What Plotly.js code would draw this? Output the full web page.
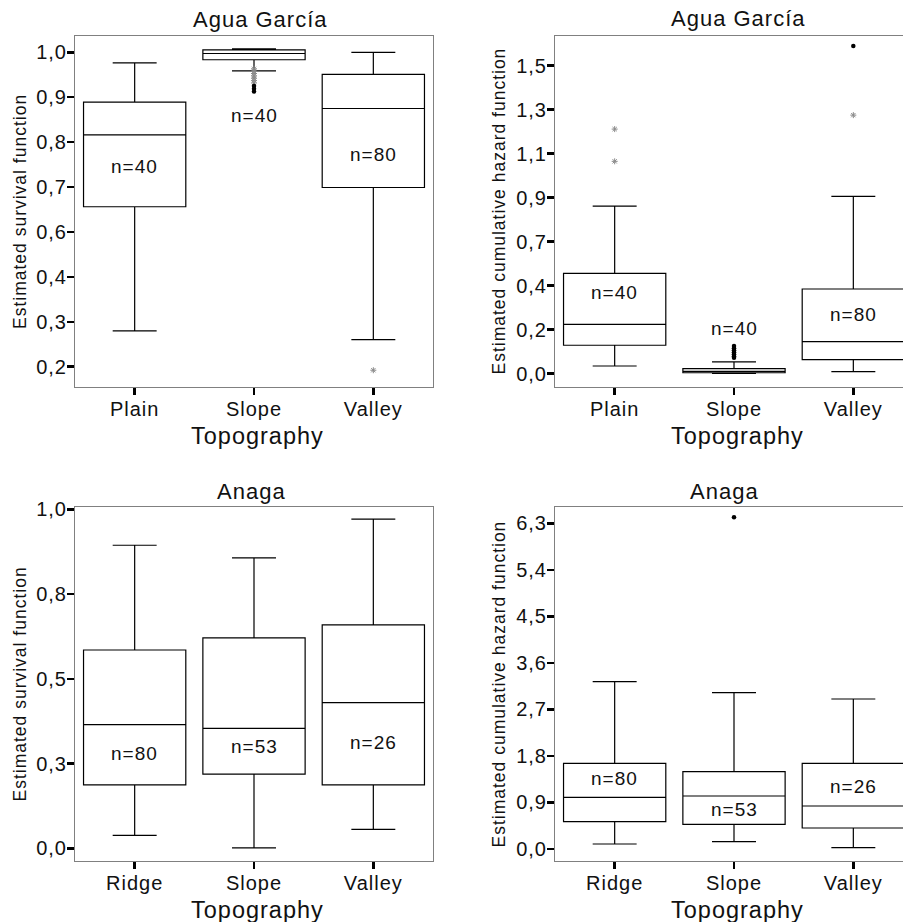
<!DOCTYPE html>
<html>
<head>
<meta charset="utf-8">
<script src="https://cdn.plot.ly/plotly-3.0.1.min.js"></script>
<style>
  html, body { margin: 0; padding: 0; background: #fff; overflow: hidden; }
  #chart { width: 915px; height: 922px; }
  svg text { letter-spacing: 1px; }
</style>
</head>
<body>
<div id="chart"></div>
<script>
// ---------- categories ----------
const agCats = ['Plain', 'Slope', 'Valley'];
const anCats = ['Ridge', 'Slope', 'Valley'];

// ---------- Agua García: estimated survival function ----------
const agSurvLower  = [0.291, 0.953, 0.269];
const agSurvQ1     = [0.607, 0.981, 0.656];
const agSurvMedian = [0.790, 0.997, 0.857];
const agSurvQ3     = [0.873, 1.006, 0.944];
const agSurvUpper  = [0.973, 1.009, 1.000];
const agSurvN      = ['n=40', 'n=40', 'n=80'];
const agSurvNY     = [0.709, 0.840, 0.741];
const agSurvGreyX  = ['Slope', 'Slope', 'Slope', 'Slope', 'Slope', 'Slope', 'Slope', 'Valley'];
const agSurvGreyY  = [0.958, 0.952, 0.946, 0.940, 0.934, 0.928, 0.922, 0.191];
const agSurvDotX   = ['Slope', 'Slope', 'Slope'];
const agSurvDotY   = [0.914, 0.907, 0.900];
const agSurvTickV  = [0.2, 0.3143, 0.4286, 0.5429, 0.6571, 0.7714, 0.8857, 1.0];
const agSurvTickT  = ['0,2', '0,3', '0,4', '0,6', '0,7', '0,8', '0,9', '1,0'];

// ---------- Agua García: estimated cumulative hazard function ----------
const agHazLower  = [0.037, 0.001, 0.010];
const agHazQ1     = [0.138, 0.004, 0.068];
const agHazMedian = [0.240, 0.011, 0.156];
const agHazQ3     = [0.488, 0.024, 0.412];
const agHazUpper  = [0.816, 0.057, 0.863];
const agHazN      = ['n=40', 'n=40', 'n=80'];
const agHazNY     = [0.393, 0.219, 0.286];
const agHazGreyX  = ['Plain', 'Plain', 'Valley'];
const agHazGreyY  = [1.191, 1.034, 1.259];
const agHazDotX   = ['Slope', 'Slope', 'Slope', 'Slope', 'Slope', 'Slope', 'Slope', 'Valley'];
const agHazDotY   = [0.134, 0.124, 0.114, 0.104, 0.094, 0.084, 0.077, 1.596];
const agHazTickV  = [0, 0.2143, 0.4286, 0.6429, 0.8571, 1.0714, 1.2857, 1.5];
const agHazTickT  = ['0,0', '0,2', '0,4', '0,7', '0,9', '1,1', '1,3', '1,5'];

// ---------- Anaga: estimated survival function ----------
const anSurvLower  = [0.038, 0.001, 0.056];
const anSurvQ1     = [0.187, 0.219, 0.187];
const anSurvMedian = [0.365, 0.354, 0.430];
const anSurvQ3     = [0.585, 0.621, 0.659];
const anSurvUpper  = [0.894, 0.857, 0.971];
const anSurvN      = ['n=80', 'n=53', 'n=26'];
const anSurvNY     = [0.280, 0.300, 0.312];
const anSurvTickV  = [0, 0.25, 0.5, 0.75, 1.0];
const anSurvTickT  = ['0,0', '0,3', '0,5', '0,8', '1,0'];

// ---------- Anaga: estimated cumulative hazard function ----------
const anHazLower  = [0.097, 0.141, 0.025];
const anHazQ1     = [0.528, 0.478, 0.406];
const anHazMedian = [1.000, 1.025, 0.832];
const anHazQ3     = [1.658, 1.495, 1.658];
const anHazUpper  = [3.236, 3.023, 2.901];
const anHazN      = ['n=80', 'n=53', 'n=26'];
const anHazNY     = [1.368, 0.768, 1.205];
const anHazDotX   = ['Slope'];
const anHazDotY   = [6.416];
const anHazTickV  = [0, 0.9, 1.8, 2.7, 3.6, 4.5, 5.4, 6.3];
const anHazTickT  = ['0,0', '0,9', '1,8', '2,7', '3,6', '4,5', '5,4', '6,3'];

const titleTop = 'Agua García';
const titleBottom = 'Anaga';
const xTitle = 'Topography';
const ySurv = 'Estimated survival function';
const yHaz = 'Estimated cumulative hazard function';

// ---------- helpers ----------
const FONT = 'Arial, "Liberation Sans", sans-serif';
const W = 915, H = 922;
const px = v => v / W;
const py = v => 1 - v / H;

function boxTrace(ax, cats, lo, q1, med, q3, hi) {
  return {
    type: 'box', xaxis: 'x' + ax, yaxis: 'y' + ax,
    x: cats, q1: q1, median: med, q3: q3, lowerfence: lo, upperfence: hi,
    boxpoints: false, width: 0.857, whiskerwidth: 0.43,
    fillcolor: '#ffffff', line: { color: '#000000', width: 1.2 },
    hoverinfo: 'skip'
  };
}
function greyTrace(ax, xs, ys) {
  return {
    type: 'scatter', mode: 'markers', xaxis: 'x' + ax, yaxis: 'y' + ax,
    x: xs, y: ys,
    marker: { symbol: 'asterisk-open', size: 5, color: '#8a8a8a', line: { color: '#8a8a8a', width: 1 } },
    hoverinfo: 'skip'
  };
}
function dotTrace(ax, xs, ys) {
  return {
    type: 'scatter', mode: 'markers', xaxis: 'x' + ax, yaxis: 'y' + ax,
    x: xs, y: ys,
    marker: { symbol: 'circle', size: 4.5, color: '#000000' },
    hoverinfo: 'skip'
  };
}

const data = [
  boxTrace('', agCats, agSurvLower, agSurvQ1, agSurvMedian, agSurvQ3, agSurvUpper),
  greyTrace('', agSurvGreyX, agSurvGreyY),
  dotTrace('', agSurvDotX, agSurvDotY),
  boxTrace('2', agCats, agHazLower, agHazQ1, agHazMedian, agHazQ3, agHazUpper),
  greyTrace('2', agHazGreyX, agHazGreyY),
  dotTrace('2', agHazDotX, agHazDotY),
  boxTrace('3', anCats, anSurvLower, anSurvQ1, anSurvMedian, anSurvQ3, anSurvUpper),
  boxTrace('4', anCats, anHazLower, anHazQ1, anHazMedian, anHazQ3, anHazUpper),
  dotTrace('4', anHazDotX, anHazDotY)
];

function xAxis(domain, cats, anchor) {
  return {
    domain: domain, anchor: anchor, type: 'category',
    categoryorder: 'array', categoryarray: cats, range: [-0.5, 2.5],
    showgrid: false, zeroline: false, fixedrange: true,
    showline: true, linecolor: '#808080', linewidth: 1, mirror: true,
    ticks: 'outside', ticklen: 7, tickwidth: 2.5, tickcolor: '#000000',
    ticklabelstandoff: -3,
    tickfont: { family: FONT, size: 20, color: '#111111' }
  };
}
function yAxis(domain, range, tv, tt, anchor) {
  return {
    domain: domain, anchor: anchor, range: range,
    tickmode: 'array', tickvals: tv, ticktext: tt,
    showgrid: false, zeroline: false, fixedrange: true,
    showline: true, linecolor: '#808080', linewidth: 1, mirror: true,
    ticks: 'outside', ticklen: 7, tickwidth: 2.5, tickcolor: '#000000',
    ticklabelstandoff: -4,
    tickfont: { family: FONT, size: 20, color: '#111111' }
  };
}

const xL = [px(75), px(433)], xR = [px(555), px(913)];
const yT = [py(387), py(36)], yB = [py(861), py(507)];

const annotations = [];
function textAnn(x, y, text, size, angle) {
  annotations.push({
    xref: 'paper', yref: 'paper', x: px(x), y: py(y), text: text,
    showarrow: false, xanchor: 'center', yanchor: 'middle', textangle: angle || 0,
    font: { family: FONT, size: size, color: '#111111' }
  });
}
function nAnn(ax, cats, ys, texts) {
  cats.forEach((c, i) => annotations.push({
    xref: 'x' + ax, yref: 'y' + ax, x: c, y: ys[i], text: texts[i],
    showarrow: false, xanchor: 'center', yanchor: 'middle',
    font: { family: FONT, size: 19, color: '#111111' }
  }));
}

textAnn(260, 20, titleTop, 22);
textAnn(738, 19, titleTop, 22);
textAnn(251, 491, titleBottom, 22);
textAnn(724, 491, titleBottom, 22);
textAnn(257, 435.5, xTitle, 23.5);
textAnn(737, 435.5, xTitle, 23.5);
textAnn(257, 909.5, xTitle, 23.5);
textAnn(737, 909.5, xTitle, 23.5);
textAnn(20, 212, ySurv, 17.5, -90);
textAnn(498.5, 211, yHaz, 17.5, -90);
textAnn(19.5, 684, ySurv, 17.5, -90);
textAnn(498.5, 684, yHaz, 17.5, -90);

nAnn('', agCats, agSurvNY, agSurvN);
nAnn('2', agCats, agHazNY, agHazN);
nAnn('3', anCats, anSurvNY, anSurvN);
nAnn('4', anCats, anHazNY, anHazN);

const layout = {
  width: W, height: H,
  margin: { l: 0, r: 0, t: 0, b: 0 },
  paper_bgcolor: '#ffffff', plot_bgcolor: '#ffffff',
  showlegend: false,
  xaxis:  xAxis(xL, agCats, 'y'),
  yaxis:  yAxis(yT, [0.1483, 1.0415], agSurvTickV, agSurvTickT, 'x'),
  xaxis2: xAxis(xR, agCats, 'y2'),
  yaxis2: yAxis(yT, [-0.0653, 1.6445], agHazTickV, agHazTickT, 'x2'),
  xaxis3: xAxis(xL, anCats, 'y3'),
  yaxis3: yAxis(yB, [-0.0375, 1.0068], anSurvTickV, anSurvTickT, 'x3'),
  xaxis4: xAxis(xR, anCats, 'y4'),
  yaxis4: yAxis(yB, [-0.232, 6.615], anHazTickV, anHazTickT, 'x4'),
  annotations: annotations
};

Plotly.newPlot('chart', data, layout, { displayModeBar: false, staticPlot: true });
</script>
</body>
</html>
